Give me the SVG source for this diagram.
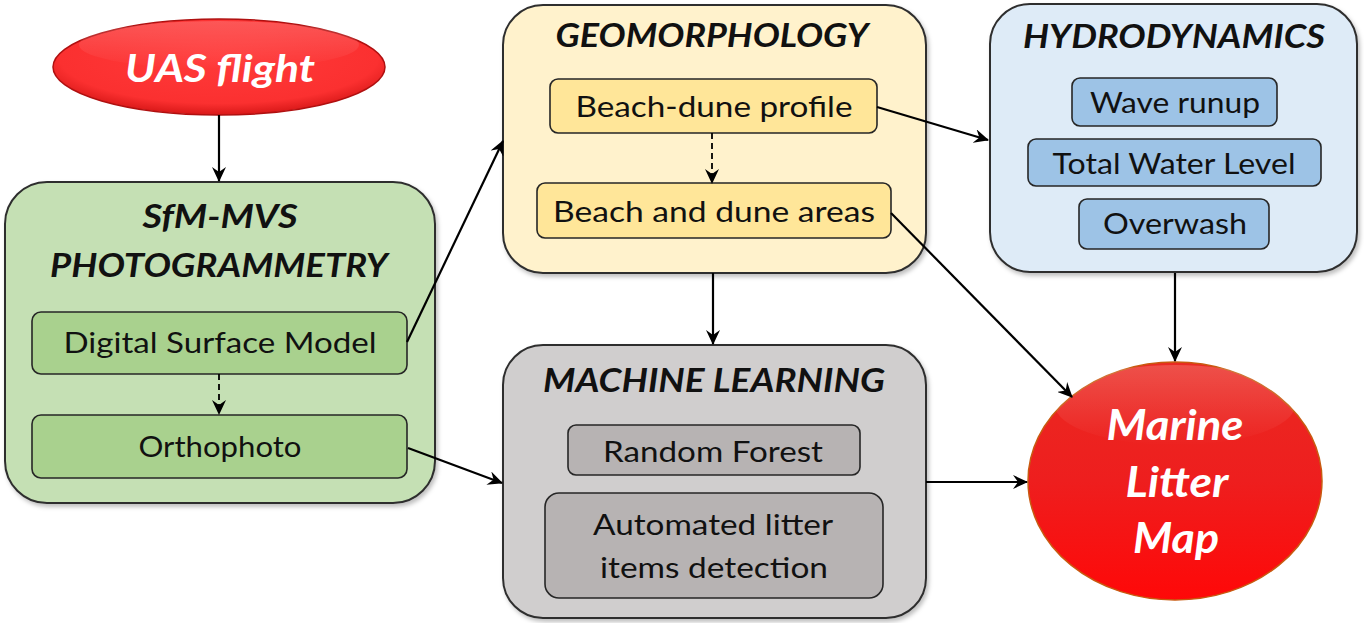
<svg xmlns="http://www.w3.org/2000/svg" width="1364" height="623" viewBox="0 0 1364 623">
<style>
.outer{stroke:#2e2e2e;stroke-width:2}
.inner{stroke:#262626;stroke-width:1.6}
.title{font-family:"Lato","Liberation Sans",sans-serif;font-weight:bold;font-style:italic;font-size:32px;fill:#111;text-anchor:middle}
.lbl{font-family:"Lato","Liberation Sans",sans-serif;font-size:28px;fill:#111;text-anchor:middle}
.wt{font-family:"Lato","Liberation Sans",sans-serif;font-weight:bold;font-style:italic;fill:#fff;text-anchor:middle}
.con{stroke:#000;stroke-width:2.2;fill:none;marker-end:url(#ah)}
.dash{stroke:#000;stroke-width:1.8;fill:none;stroke-dasharray:6,4;marker-end:url(#ah)}
</style>
<defs>
<marker id="ah" viewBox="0 0 15 14" refX="14" refY="7" markerWidth="15" markerHeight="14" markerUnits="userSpaceOnUse" orient="auto">
<path d="M0,0 L15,7 L0,14 L5,7 z" fill="#000"/>
</marker>
<filter id="sh" x="-5%" y="-5%" width="112%" height="112%">
<feDropShadow dx="2" dy="3" stdDeviation="2" flood-color="#000" flood-opacity="0.25"/>
</filter>
<radialGradient id="redA" cx="50%" cy="40%" r="60%">
<stop offset="0" stop-color="#ff3a3a"/>
<stop offset="0.8" stop-color="#fb3030"/>
<stop offset="1" stop-color="#d81818"/>
</radialGradient>
<linearGradient id="redB" x1="0" y1="0" x2="0" y2="1">
<stop offset="0" stop-color="#ea2a22"/>
<stop offset="0.5" stop-color="#ee1e1e"/>
<stop offset="1" stop-color="#ff0808"/>
</linearGradient>
<linearGradient id="gloss" x1="0" y1="0" x2="0" y2="1">
<stop offset="0" stop-color="#fff" stop-opacity="0.18"/>
<stop offset="1" stop-color="#fff" stop-opacity="0"/>
</linearGradient>
</defs>

<g id="uas">
<ellipse cx="219" cy="67" rx="166" ry="48" fill="url(#redA)" stroke="#b01010" stroke-width="1.5"/>
<ellipse cx="219" cy="45" rx="140" ry="24" fill="url(#gloss)"/>
<text class="wt" x="220" y="82" font-size="38" textLength="190" lengthAdjust="spacingAndGlyphs">UAS flight</text>
</g>

<g id="sfm">
<rect class="outer" x="5" y="182" width="430" height="321" rx="42" fill="#c5e0b4" filter="url(#sh)"/>
<text class="title" x="220" y="228" textLength="155" lengthAdjust="spacingAndGlyphs">SfM-MVS</text>
<text class="title" x="219" y="277" textLength="338" lengthAdjust="spacingAndGlyphs">PHOTOGRAMMETRY</text>
<g id="dsm">
<rect class="inner" x="32" y="312" width="375" height="62" rx="9" fill="#a9d18e"/>
<text class="lbl" x="220" y="353" textLength="313" lengthAdjust="spacingAndGlyphs">Digital Surface Model</text>
</g>
<g id="ortho">
<rect class="inner" x="32" y="415" width="375" height="63" rx="9" fill="#a9d18e"/>
<text class="lbl" x="220" y="457" textLength="163" lengthAdjust="spacingAndGlyphs">Orthophoto</text>
</g>
</g>

<g id="geo">
<rect class="outer" x="503" y="5" width="423" height="268" rx="40" fill="#fff2cc" filter="url(#sh)"/>
<text class="title" x="712" y="47" textLength="313" lengthAdjust="spacingAndGlyphs">GEOMORPHOLOGY</text>
<g id="profile">
<rect class="inner" x="550" y="79" width="327" height="54" rx="8" fill="#ffe699"/>
<text class="lbl" x="714" y="117" textLength="277" lengthAdjust="spacingAndGlyphs">Beach-dune profile</text>
</g>
<g id="areas">
<rect class="inner" x="537" y="183" width="354" height="55" rx="8" fill="#ffe699"/>
<text class="lbl" x="714" y="222" textLength="322" lengthAdjust="spacingAndGlyphs">Beach and dune areas</text>
</g>
</g>

<g id="hydro">
<rect class="outer" x="990" y="4" width="367" height="268" rx="40" fill="#deebf7" filter="url(#sh)"/>
<text class="title" x="1174" y="48" textLength="302" lengthAdjust="spacingAndGlyphs">HYDRODYNAMICS</text>
<g id="wave">
<rect class="inner" x="1072" y="78" width="205" height="48" rx="8" fill="#9dc3e6"/>
<text class="lbl" x="1175" y="113" textLength="170" lengthAdjust="spacingAndGlyphs">Wave runup</text>
</g>
<g id="twl">
<rect class="inner" x="1028" y="139" width="293" height="47" rx="8" fill="#9dc3e6"/>
<text class="lbl" x="1174" y="174" textLength="243" lengthAdjust="spacingAndGlyphs">Total Water Level</text>
</g>
<g id="overwash">
<rect class="inner" x="1079" y="199" width="190" height="50" rx="8" fill="#9dc3e6"/>
<text class="lbl" x="1175" y="234" textLength="144" lengthAdjust="spacingAndGlyphs">Overwash</text>
</g>
</g>

<g id="ml">
<rect class="outer" x="503" y="345" width="423" height="273" rx="40" fill="#d0cece" filter="url(#sh)"/>
<text class="title" x="714" y="392" textLength="342" lengthAdjust="spacingAndGlyphs">MACHINE LEARNING</text>
<g id="rf">
<rect class="inner" x="568" y="425" width="292" height="50" rx="8" fill="#b7b3b3"/>
<text class="lbl" x="713" y="462" textLength="220" lengthAdjust="spacingAndGlyphs">Random Forest</text>
</g>
<g id="auto">
<rect class="inner" x="545" y="493" width="338" height="105" rx="14" fill="#b7b3b3"/>
<text class="lbl" x="713" y="535" textLength="240" lengthAdjust="spacingAndGlyphs">Automated litter</text>
<text class="lbl" x="714" y="578" textLength="228" lengthAdjust="spacingAndGlyphs">items detection</text>
</g>
</g>

<g id="marine">
<ellipse cx="1175" cy="481" rx="147" ry="119" fill="url(#redB)" stroke="#c85a10" stroke-width="1.5"/>
<ellipse cx="1175" cy="405" rx="120" ry="40" fill="url(#gloss)"/>
<text class="wt" x="1175" y="440" font-size="42" textLength="137" lengthAdjust="spacingAndGlyphs">Marine</text>
<text class="wt" x="1177" y="497" font-size="42" textLength="103" lengthAdjust="spacingAndGlyphs">Litter</text>
<text class="wt" x="1176" y="553" font-size="42" textLength="86" lengthAdjust="spacingAndGlyphs">Map</text>
</g>

<g id="connectors">
<line class="con" x1="219" y1="115" x2="219" y2="181"/>
<line class="con" x1="407" y1="342" x2="503" y2="141"/>
<line class="dash" x1="219" y1="374" x2="219" y2="414"/>
<line class="con" x1="408" y1="448" x2="502" y2="483"/>
<line class="con" x1="713" y1="273" x2="713" y2="344"/>
<line class="dash" x1="712" y1="133" x2="712" y2="183"/>
<line class="con" x1="877" y1="107" x2="988" y2="140"/>
<line class="con" x1="891" y1="213" x2="1072" y2="397"/>
<line class="con" x1="1175" y1="273" x2="1175" y2="361"/>
<line class="con" x1="926" y1="482" x2="1027" y2="482"/>
</g>
</svg>
